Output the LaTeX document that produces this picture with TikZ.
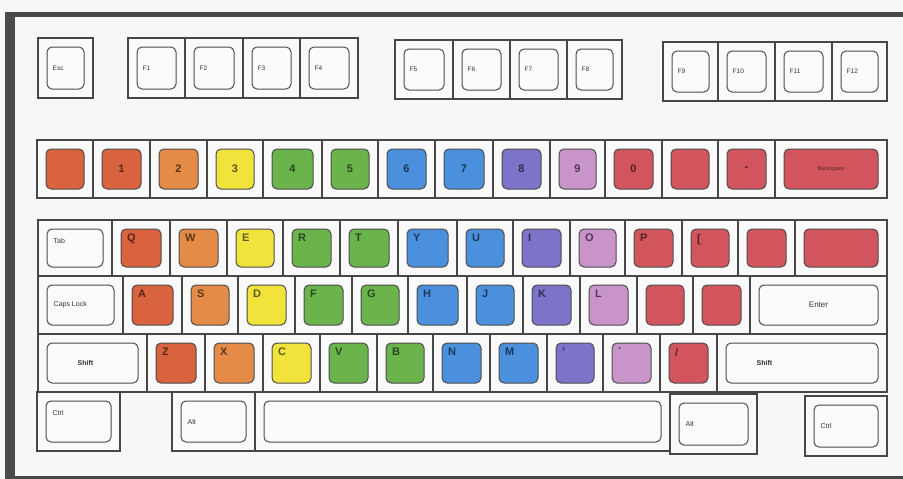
\documentclass[tikz,border=0pt]{standalone}
\usepackage{fontspec}
\setmainfont{Liberation Sans}
\definecolor{bgc}{HTML}{F6F7F9}
\definecolor{framec}{HTML}{4A4A4A}
\definecolor{kro}{HTML}{D8633E}
\definecolor{kor}{HTML}{E48B48}
\definecolor{kye}{HTML}{F2E33C}
\definecolor{kgr}{HTML}{6BB44C}
\definecolor{kbl}{HTML}{4A90DD}
\definecolor{kpu}{HTML}{7B74C9}
\definecolor{kli}{HTML}{C994CA}
\definecolor{krd}{HTML}{D2545C}
\definecolor{kwh}{HTML}{FAFBFC}
\tikzset{
  okey/.style={draw=black!72, line width=1.2pt, inner sep=0pt, outer sep=0pt, fill=bgc!60!white},
  ikey/.style={draw=black!70, line width=1pt, rounded corners=5pt, inner sep=0pt, outer sep=0pt},
  lettl/.style={anchor=north west, xshift=6pt, yshift=-5pt, inner sep=0pt, font=\bfseries\fontsize{11}{12}\selectfont, text=black, opacity=0.6},
  numc/.style={anchor=center, inner sep=0.5pt, font=\bfseries\fontsize{11}{12}\selectfont, text=black, opacity=0.62},
  fkl/.style={anchor=west, xshift=5pt, inner sep=0.5pt, font=\fontsize{6.5}{7}\selectfont, text=black!80},
  modl/.style={anchor=west, xshift=6pt, inner sep=0.5pt, font=\fontsize{7}{8}\selectfont, text=black!80},
  modtl/.style={anchor=north west, xshift=6pt, yshift=-9pt, inner sep=0.5pt, font=\fontsize{7}{8}\selectfont, text=black!80},
  modsh/.style={anchor=west, xshift=30pt, inner sep=0.5pt, font=\bfseries\fontsize{7}{8}\selectfont, text=black!80},
  modc/.style={anchor=center, inner sep=0.5pt, font=\fontsize{8}{9}\selectfont, text=black!80},
  tinyc/.style={anchor=center, inner sep=0.5pt, font=\fontsize{5.5}{6}\selectfont, text=black, opacity=0.6},
}
% #1 name, #2 x1, #3 x2, #4 y1, #5 y2, #6 fill, #7 label, #8 label style, #9 label anchor point
\newcommand{\kk}[9]{%
  \node[okey, minimum width={#3-#2}, minimum height={#5-#4}] (#1) at ({(#2+#3)/2},{-(#4+#5)/2}) {};
  \node[ikey, fill=#6, minimum width={#3-#2-18}, minimum height={#5-#4-18}] (#1i) at (#1) {};
  \node[#8] (#1t) at (#1i.#9) {#7};
}
\begin{document}
\begin{tikzpicture}[x=1pt,y=1pt]
\useasboundingbox (0,0) rectangle (903,-479);
\fill[bgc] (0,0) rectangle (903,-479);
% frame
\fill[framec] (5,-12) rectangle (903,-17);
\fill[framec] (5,-12) rectangle (15,-479);
\fill[framec] (5,-475.5) rectangle (903,-478.5);
% function row
\kk{kEsc}{38}{93}{38}{98}{kwh}{Esc}{fkl}{west}
\kk{kFa}{128}{185}{38}{98}{kwh}{F1}{fkl}{west}
\kk{kFb}{185}{243}{38}{98}{kwh}{F2}{fkl}{west}
\kk{kFc}{243}{300}{38}{98}{kwh}{F3}{fkl}{west}
\kk{kFd}{300}{358}{38}{98}{kwh}{F4}{fkl}{west}
\kk{kFe}{395}{453}{40}{99}{kwh}{F5}{fkl}{west}
\kk{kFf}{453}{510}{40}{99}{kwh}{F6}{fkl}{west}
\kk{kFg}{510}{567}{40}{99}{kwh}{F7}{fkl}{west}
\kk{kFh}{567}{622}{40}{99}{kwh}{F8}{fkl}{west}
\kk{kFi}{663}{718}{42}{101}{kwh}{F9}{fkl}{west}
\kk{kFj}{718}{775}{42}{101}{kwh}{F10}{fkl}{west}
\kk{kFk}{775}{832}{42}{101}{kwh}{F11}{fkl}{west}
\kk{kFl}{832}{887}{42}{101}{kwh}{F12}{fkl}{west}
% number row
\kk{kGrave}{37}{93}{140}{198}{kro}{}{numc}{center}
\kk{kOne}{93}{150}{140}{198}{kro}{1}{numc}{center}
\kk{kTwo}{150}{207}{140}{198}{kor}{2}{numc}{center}
\kk{kThree}{207}{263}{140}{198}{kye}{3}{numc}{center}
\kk{kFour}{263}{322}{140}{198}{kgr}{4}{numc}{center}
\kk{kFive}{322}{378}{140}{198}{kgr}{5}{numc}{center}
\kk{kSix}{378}{435}{140}{198}{kbl}{6}{numc}{center}
\kk{kSeven}{435}{493}{140}{198}{kbl}{7}{numc}{center}
\kk{kEight}{493}{550}{140}{198}{kpu}{8}{numc}{center}
\kk{kNine}{550}{605}{140}{198}{kli}{9}{numc}{center}
\kk{kZero}{605}{662}{140}{198}{krd}{0}{numc}{center}
\kk{kMinus}{662}{718}{140}{198}{krd}{}{numc}{center}
\kk{kEqual}{718}{775}{140}{198}{krd}{-}{numc}{center}
\kk{kBack}{775}{887}{140}{198}{krd}{Backspace}{tinyc}{center}
% qwerty row
\kk{kTab}{38}{112}{220}{276}{kwh}{Tab}{modtl}{north west}
\kk{kQ}{112}{170}{220}{276}{kro}{Q}{lettl}{north west}
\kk{kW}{170}{227}{220}{276}{kor}{W}{lettl}{north west}
\kk{kE}{227}{283}{220}{276}{kye}{E}{lettl}{north west}
\kk{kR}{283}{340}{220}{276}{kgr}{R}{lettl}{north west}
\kk{kT}{340}{398}{220}{276}{kgr}{T}{lettl}{north west}
\kk{kY}{398}{457}{220}{276}{kbl}{Y}{lettl}{north west}
\kk{kU}{457}{513}{220}{276}{kbl}{U}{lettl}{north west}
\kk{kI}{513}{570}{220}{276}{kpu}{I}{lettl}{north west}
\kk{kO}{570}{625}{220}{276}{kli}{O}{lettl}{north west}
\kk{kP}{625}{682}{220}{276}{krd}{P}{lettl}{north west}
\kk{kLb}{682}{738}{220}{276}{krd}{[}{lettl}{north west}
\kk{kRb}{738}{795}{220}{276}{krd}{}{lettl}{north west}
\kk{kBsl}{795}{887}{220}{276}{krd}{}{lettl}{north west}
% home row
\kk{kCaps}{38}{123}{276}{334}{kwh}{Caps Lock}{modl}{west}
\kk{kA}{123}{182}{276}{334}{kro}{A}{lettl}{north west}
\kk{kS}{182}{238}{276}{334}{kor}{S}{lettl}{north west}
\kk{kD}{238}{295}{276}{334}{kye}{D}{lettl}{north west}
\kk{kF}{295}{352}{276}{334}{kgr}{F}{lettl}{north west}
\kk{kG}{352}{408}{276}{334}{kgr}{G}{lettl}{north west}
\kk{kH}{408}{467}{276}{334}{kbl}{H}{lettl}{north west}
\kk{kJ}{467}{523}{276}{334}{kbl}{J}{lettl}{north west}
\kk{kK}{523}{580}{276}{334}{kpu}{K}{lettl}{north west}
\kk{kL}{580}{637}{276}{334}{kli}{L}{lettl}{north west}
\kk{kSemi}{637}{693}{276}{334}{krd}{}{lettl}{north west}
\kk{kQuote}{693}{750}{276}{334}{krd}{}{lettl}{north west}
\kk{kEnter}{750}{887}{276}{334}{kwh}{Enter}{modc}{center}
% bottom letter row
\kk{kShiftL}{38}{147}{334}{392}{kwh}{Shift}{modsh}{west}
\kk{kZ}{147}{205}{334}{392}{kro}{Z}{lettl}{north west}
\kk{kX}{205}{263}{334}{392}{kor}{X}{lettl}{north west}
\kk{kC}{263}{320}{334}{392}{kye}{C}{lettl}{north west}
\kk{kV}{320}{377}{334}{392}{kgr}{V}{lettl}{north west}
\kk{kB}{377}{433}{334}{392}{kgr}{B}{lettl}{north west}
\kk{kN}{433}{490}{334}{392}{kbl}{N}{lettl}{north west}
\kk{kM}{490}{547}{334}{392}{kbl}{M}{lettl}{north west}
\kk{kComma}{547}{603}{334}{392}{kpu}{,}{lettl}{north west}
\kk{kPeriod}{603}{660}{334}{392}{kli}{.}{lettl}{north west}
\kk{kSlash}{660}{717}{334}{392}{krd}{/}{lettl}{north west}
\kk{kShiftR}{717}{887}{334}{392}{kwh}{Shift}{modsh}{west}
% space row
\kk{kCtrlL}{37}{120}{392}{451}{kwh}{Ctrl}{modtl}{north west}
\kk{kAltL}{172}{255}{392}{451}{kwh}{Alt}{modl}{west}
\kk{kSpace}{255}{670}{392}{451}{kwh}{}{modl}{west}
\kk{kAltR}{670}{757}{394}{454}{kwh}{Alt}{modl}{west}
\kk{kCtrlR}{805}{887}{396}{456}{kwh}{Ctrl}{modl}{west}
\end{tikzpicture}
\end{document}
